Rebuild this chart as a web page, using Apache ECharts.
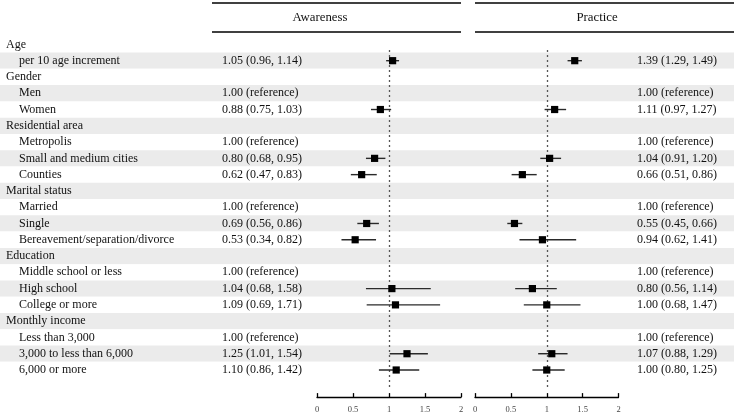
<!DOCTYPE html>
<html>
<head>
<meta charset="utf-8">
<script src="https://cdn.jsdelivr.net/npm/echarts@6/dist/echarts.min.js"></script>
<style>html,body{margin:0;padding:0;background:#fff}#c{width:734px;height:418px}</style>
</head>
<body>
<div id="c"></div>
<script>
// ---- data ----
const rowLabels = ['Age','per 10 age increment','Gender','Men','Women','Residential area','Metropolis','Small and medium cities','Counties','Marital status','Married','Single','Bereavement/separation/divorce','Education','Middle school or less','High school','College or more','Monthly income','Less than 3,000','3,000 to less than 6,000','6,000 or more'];
const isGroup = [1,0,1,0,0,1,0,0,0,1,0,0,0,1,0,0,0,1,0,0,0];
const awEst = [null,1.05,null,1.00,0.88,null,1.00,0.80,0.62,null,1.00,0.69,0.53,null,1.00,1.04,1.09,null,1.00,1.25,1.10];
const awLo  = [null,0.96,null,null,0.75,null,null,0.68,0.47,null,null,0.56,0.34,null,null,0.68,0.69,null,null,1.01,0.86];
const awHi  = [null,1.14,null,null,1.03,null,null,0.95,0.83,null,null,0.86,0.82,null,null,1.58,1.71,null,null,1.54,1.42];
const prEst = [null,1.39,null,1.00,1.11,null,1.00,1.04,0.66,null,1.00,0.55,0.94,null,1.00,0.80,1.00,null,1.00,1.07,1.00];
const prLo  = [null,1.29,null,null,0.97,null,null,0.91,0.51,null,null,0.45,0.62,null,null,0.56,0.68,null,null,0.88,0.80];
const prHi  = [null,1.49,null,null,1.27,null,null,1.20,0.86,null,null,0.66,1.41,null,null,1.14,1.47,null,null,1.29,1.25];
const xTicks = [0,0.5,1,1.5,2];
const panelTitles = ['Awareness','Practice'];

// ---- helpers ----
const FONT = 'Liberation Serif';
const FS = 12;
function txt(e,l,h){ if(e==null) return ''; if(l==null) return e.toFixed(2)+' (reference)'; return e.toFixed(2)+' ('+l.toFixed(2)+', '+h.toFixed(2)+')'; }
const awText = awEst.map((e,i)=>txt(e,awLo[i],awHi[i]));
const prText = prEst.map((e,i)=>txt(e,prLo[i],prHi[i]));
function pts(est,lo,hi){ const d=[]; est.forEach((e,i)=>{ if(e!=null && lo[i]!=null) d.push([e,i,lo[i],hi[i]]); }); return d; }

const ROW_H = 16.28, ROW0 = 44.4, NROW = rowLabels.length;
const catTop = ROW0 - ROW_H/2, catH = ROW_H*NROW;
const vMin = 0.35, vMax = 21.05;
const plotTop = ROW0 + vMin*ROW_H, plotH = (vMax-vMin)*ROW_H;

function renderForest(params, api){
  const y = api.value(1);
  const lo = api.coord([api.value(2), y]);
  const hi = api.coord([api.value(3), y]);
  const c = api.coord([api.value(0), y]);
  return {type:'group', children:[
    {type:'line', shape:{x1:lo[0],y1:lo[1],x2:hi[0],y2:hi[1]}, style:{stroke:'#2a2a2a', lineWidth:1.4}},
    {type:'rect', shape:{x:c[0]-3.6,y:c[1]-3.6,width:7.2,height:7.2}, style:{fill:'#000'}}
  ]};
}
function catAxis(gi, data, margin, labelOpts, split){
  return {type:'category', gridIndex:gi, inverse:true, data:data,
    axisLine:{show:false}, axisTick:{show:false},
    axisLabel:Object.assign({show:true, inside:true, align:'left', margin:margin, fontFamily:FONT, fontSize:FS, color:'#111', interval:0}, labelOpts||{}),
    splitLine:{show:false},
    splitArea: split ? {show:true, interval:0, areaStyle:{color:['#ffffff','#ebebeb']}} : {show:false}};
}
function valX(gi){
  return {type:'value', gridIndex:gi, min:0, max:2, interval:0.5, offset:10,
    axisLine:{show:true, lineStyle:{color:'#000', width:1.3}},
    axisTick:{show:true, inside:true, length:4, lineStyle:{color:'#000', width:1.3}},
    axisLabel:{show:true, fontFamily:FONT, fontSize:8.5, color:'#444', margin:8, formatter:v=>String(v)},
    splitLine:{show:false}};
}
function valY(gi){ return {type:'value', gridIndex:gi, inverse:true, min:vMin, max:vMax, show:false}; }
function hidX(gi){ return {type:'value', gridIndex:gi, show:false}; }
function forestSeries(xi, data){
  return {type:'custom', xAxisIndex:xi, yAxisIndex:xi, renderItem:renderForest, data:data, encode:{x:[0,2,3], y:1}, z:5,
    markLine:{silent:true, symbol:['none','none'], label:{show:false}, lineStyle:{type:[2,3], color:'#555', width:1.3}, data:[{xAxis:1}]}};
}

const chart = echarts.init(document.getElementById('c'), null, {renderer:'canvas'});
chart.setOption({
  animation:false,
  grid:[
    {left:0, right:0, top:catTop, height:catH},
    {left:222, width:10, top:catTop, height:catH},
    {left:637, width:10, top:catTop, height:catH},
    {left:317, width:144, top:plotTop, height:plotH},
    {left:475, width:143.5, top:plotTop, height:plotH}
  ],
  xAxis:[hidX(0), hidX(1), hidX(2), valX(3), valX(4)],
  yAxis:[
    catAxis(0, rowLabels, 6, {formatter:(v,i)=> isGroup[i] ? '{g|'+v+'}' : '{s|'+v+'}', rich:{g:{fontFamily:FONT,fontSize:FS,color:'#111'}, s:{fontFamily:FONT,fontSize:FS,color:'#111',padding:[0,0,0,13]}}}, true),
    catAxis(1, awText, 0),
    catAxis(2, prText, 0),
    valY(3), valY(4)
  ],
  series:[
    {type:'scatter', xAxisIndex:0, yAxisIndex:0, data:[], silent:true},
    forestSeries(3, pts(awEst,awLo,awHi)),
    forestSeries(4, pts(prEst,prLo,prHi))
  ],
  graphic:[
    {type:'line', shape:{x1:212,y1:3,x2:461,y2:3}, style:{stroke:'#000', lineWidth:1.3}},
    {type:'line', shape:{x1:212,y1:32,x2:461,y2:32}, style:{stroke:'#000', lineWidth:1.3}},
    {type:'line', shape:{x1:475,y1:3,x2:734,y2:3}, style:{stroke:'#000', lineWidth:1.3}},
    {type:'line', shape:{x1:475,y1:32,x2:734,y2:32}, style:{stroke:'#000', lineWidth:1.3}},
    {type:'text', x:320, y:17.5, style:{text:panelTitles[0], fontFamily:FONT, fontSize:12.8, fill:'#111', textAlign:'center', textVerticalAlign:'middle'}},
    {type:'text', x:597, y:17.5, style:{text:panelTitles[1], fontFamily:FONT, fontSize:12.8, fill:'#111', textAlign:'center', textVerticalAlign:'middle'}}
  ]
});
</script>
</body>
</html>
